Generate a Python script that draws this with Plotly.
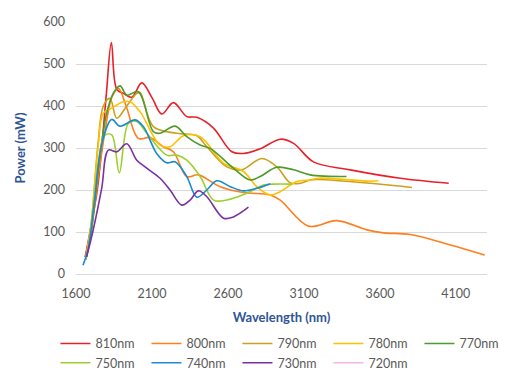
import plotly.graph_objects as go

# ---- data ----
names = ["810nm", "800nm", "790nm", "780nm", "770nm", "750nm", "740nm", "730nm", "720nm"]
colors = ["#E8202A", "#FF7F1E", "#C9A020", "#FFC000", "#4E9A2B", "#9BD12E", "#1A8BD0", "#7B2FA0", "#F4B6E6"]

x810 = [1660, 1697, 1740, 1769, 1800, 1833, 1868, 1912, 1967, 2033, 2100, 2165, 2241, 2329, 2395, 2503, 2626, 2702, 2812, 2944, 3032, 3163, 3405, 3734, 4053]
y810 = [40, 110, 200, 300, 430, 551, 440, 430, 421, 455, 420, 381, 408, 375, 373, 348, 291, 287, 298, 321, 311, 267, 248, 228, 216]

x800 = [1665, 1700, 1750, 1800, 1835, 1879, 1930, 2010, 2087, 2175, 2241, 2329, 2405, 2549, 2702, 2878, 2944, 3130, 3317, 3515, 3625, 3800, 4064, 4290]
y800 = [35, 100, 240, 360, 420, 442, 400, 323, 325, 303, 291, 232, 236, 208, 194, 188, 176, 114, 127, 105, 98, 94, 69, 45]

x790 = [1665, 1700, 1745, 1780, 1824, 1868, 1934, 2000, 2022, 2109, 2263, 2395, 2461, 2593, 2691, 2823, 2922, 3010, 3076, 3141, 3200, 3537, 3811]
y790 = [40, 120, 310, 400, 418, 371, 400, 430, 432, 351, 335, 329, 303, 255, 248, 275, 255, 217, 216, 224, 225, 216, 206]

x780 = [1665, 1700, 1745, 1780, 1835, 1912, 1956, 2022, 2153, 2219, 2307, 2417, 2571, 2702, 2790, 2878, 2944, 3054, 3141, 3196, 3537, 3590]
y780 = [40, 120, 300, 383, 395, 410, 410, 386, 307, 303, 329, 327, 264, 244, 208, 188, 196, 220, 224, 228, 221, 222]

x770 = [1665, 1700, 1750, 1800, 1845, 1890, 1934, 2010, 2109, 2153, 2252, 2329, 2417, 2483, 2636, 2746, 2812, 2922, 3032, 3141, 3380]
y770 = [35, 100, 260, 380, 430, 448, 426, 434, 339, 335, 352, 327, 307, 299, 252, 224, 232, 254, 248, 236, 232]

x750 = [1665, 1700, 1745, 1790, 1835, 1885, 1945, 2000, 2066, 2197, 2263, 2329, 2417, 2505, 2593, 2724, 2834, 2900, 3020]
y750 = [35, 110, 260, 330, 331, 241, 359, 363, 335, 283, 283, 271, 232, 176, 176, 192, 212, 214, 214]

x740 = [1646, 1680, 1720, 1770, 1835, 1890, 1989, 2043, 2131, 2197, 2252, 2329, 2395, 2461, 2527, 2615, 2702, 2790, 2880]
y740 = [21, 60, 170, 310, 368, 352, 367, 351, 287, 265, 267, 232, 183, 200, 222, 208, 198, 204, 215]

x730 = [1670, 1710, 1769, 1813, 1868, 1934, 2000, 2066, 2153, 2219, 2296, 2351, 2405, 2461, 2571, 2636, 2735]
y730 = [41, 100, 204, 295, 291, 310, 271, 252, 228, 200, 164, 176, 198, 184, 133, 136, 159]

# 720nm appears only in the legend (no visible curve)
x720 = []
y720 = []

xs = [x810, x800, x790, x780, x770, x750, x740, x730, x720]
ys = [y810, y800, y790, y780, y770, y750, y740, y730, y720]

x_ticks = [1600, 2100, 2600, 3100, 3600, 4100]
y_ticks = [0, 100, 200, 300, 400, 500, 600]

FONT = "Lato, 'Open Sans', sans-serif"
GREY = "#595959"
BLUE = "#2F5597"

fig = go.Figure()
for n, c, x, y in zip(names, colors, xs, ys):
    fig.add_trace(go.Scatter(
        x=x if x else [None], y=y if y else [None], name=n, mode="lines",
        line=dict(color=c, width=1.6, shape="spline", smoothing=1.0),
        showlegend=True,
    ))

fig.update_layout(
    width=532, height=385,
    margin=dict(l=68, r=53, t=14, b=119, autoexpand=False),
    paper_bgcolor="white", plot_bgcolor="white",
    font=dict(family=FONT, size=12, color=GREY),
    legend=dict(
        orientation="h", x=-0.05, xanchor="left", y=-0.218, yanchor="top",
        entrywidth=46, entrywidthmode="pixels", itemwidth=30,
        font=dict(size=12.5, color=GREY), tracegroupgap=0,
    ),
    xaxis=dict(
        range=[1600, 4305], tickvals=x_ticks, ticktext=[str(v) for v in x_ticks],
        showgrid=False, zeroline=False, showline=True, linecolor="#D9D9D9", linewidth=1,
        ticks="", ticklabelstandoff=8,
        tickfont=dict(size=12.5, color=GREY),
        title=dict(text="<b>Wavelength (nm)</b>", font=dict(size=13, color=BLUE), standoff=12),
    ),
    yaxis=dict(
        range=[0, 600], tickvals=y_ticks,
        showgrid=True, gridcolor="#D9D9D9", gridwidth=1, zeroline=False, showline=False,
        ticks="", ticklabelstandoff=10,
        tickfont=dict(size=12.5, color=GREY),
        title=dict(text="<b>Power (mW)</b>", font=dict(size=13, color=BLUE), standoff=14),
    ),
)

fig.write_html("out.html")
